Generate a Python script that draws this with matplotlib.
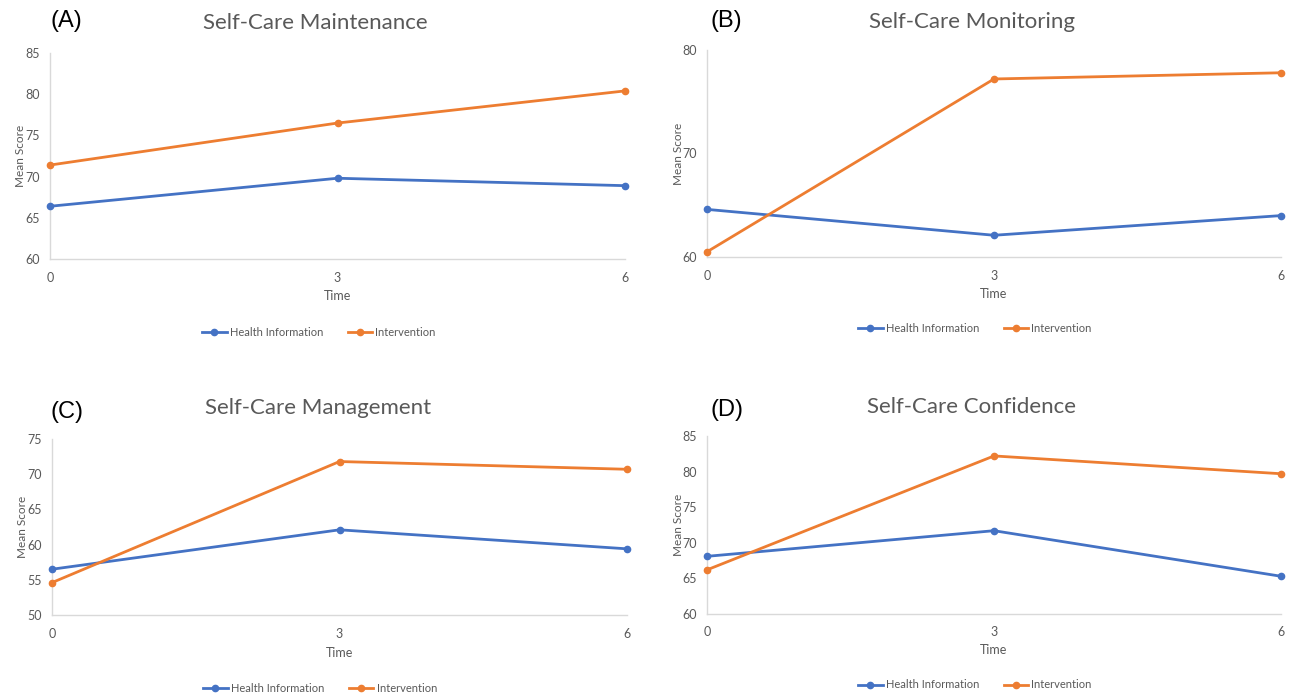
import matplotlib.pyplot as plt
from matplotlib.lines import Line2D

plt.rcParams['font.family'] = ['Lato', 'DejaVu Sans']

W, H = 1291, 695

months = [0, 3, 6]

# mean scores per subscale
maint_info = [66.4, 69.8, 68.9]
maint_interv = [71.4, 76.5, 80.4]
monit_info = [64.6, 62.1, 64.0]
monit_interv = [60.5, 77.2, 77.8]
manag_info = [56.5, 62.1, 59.4]
manag_interv = [54.6, 71.8, 70.7]
conf_info = [68.1, 71.7, 65.3]
conf_interv = [66.2, 82.2, 79.7]

titles = ["Self-Care Maintenance", "Self-Care Monitoring",
          "Self-Care Management", "Self-Care Confidence"]
letters = ["(A)", "(B)", "(C)", "(D)"]
series_names = ["Health Information", "Intervention"]

BLUE = "#4472C4"
ORANGE = "#ED7D31"
GREY = "#595959"
AXIS = "#D9D9D9"

# pixel boxes: left, right, top, bottom of each plot area
boxes = [(50, 625, 53, 259), (707, 1281, 50, 257),
         (52, 627, 439, 615), (707, 1281, 436, 614)]
ylims = [(60, 85, 5), (60, 80, 10), (50, 75, 5), (60, 85, 5)]
title_xy = [(315, 23), (972, 22), (318, 408), (972, 407)]
letter_xy = [(50, 21), (710, 21), (51, 412), (710, 410)]
time_y = [296, 294, 653, 650]
legend_xy = [(319, 332), (975, 328), (320, 688), (975, 685)]
data = [(maint_info, maint_interv), (monit_info, monit_interv),
        (manag_info, manag_interv), (conf_info, conf_interv)]


def fx(px):
    return px / W


def fy(py):
    return 1 - py / H


fig = plt.figure(figsize=(W / 100, H / 100), dpi=100)
fig.patch.set_facecolor("white")

for i in range(4):
    l, r, t, b = boxes[i]
    ax = fig.add_axes([fx(l), fy(b), fx(r - l), fy(t) - fy(b)])
    info, interv = data[i]
    ax.plot(months, info, color=BLUE, lw=2, marker="o", ms=4.5, clip_on=False, zorder=3)
    ax.plot(months, interv, color=ORANGE, lw=2, marker="o", ms=4.5, clip_on=False, zorder=3)

    lo, hi, step = ylims[i]
    ax.set_xlim(0, 6)
    ax.set_ylim(lo, hi)
    ax.set_xticks(months)
    ax.set_yticks(range(lo, hi + 1, step))
    ax.tick_params(length=0, labelsize=9, labelcolor=GREY)
    ax.tick_params(axis="x", pad=9)
    ax.tick_params(axis="y", pad=7)
    for s in ["top", "right"]:
        ax.spines[s].set_visible(False)
    for s in ["left", "bottom"]:
        ax.spines[s].set_color(AXIS)
        ax.spines[s].set_linewidth(1)

    fig.text(fx(title_xy[i][0]), fy(title_xy[i][1]), titles[i], ha="center", va="center",
             fontsize=16, color=GREY)
    fig.text(fx(letter_xy[i][0]), fy(letter_xy[i][1]), letters[i], ha="left", va="center",
             fontsize=17, color="black", family="Liberation Sans")
    fig.text(fx((l + r) / 2), fy(time_y[i]), "Time", ha="center", va="center",
             fontsize=9, color=GREY)
    fig.text(fx(l - 29), fy((t + b) / 2), "Mean Score", ha="center", va="center",
             rotation=90, fontsize=8.5, color=GREY)

    handles = [Line2D([], [], color=BLUE, lw=2, marker="o", ms=4.5),
               Line2D([], [], color=ORANGE, lw=2, marker="o", ms=4.5)]
    leg = fig.legend(handles, series_names, loc="center",
                     bbox_to_anchor=(fx(legend_xy[i][0]), fy(legend_xy[i][1])),
                     ncol=2, frameon=False, fontsize=8, handlelength=2.2,
                     handletextpad=0.3, columnspacing=2.2)
    for txt in leg.get_texts():
        txt.set_color(GREY)

fig.savefig("out.png", dpi=100)
